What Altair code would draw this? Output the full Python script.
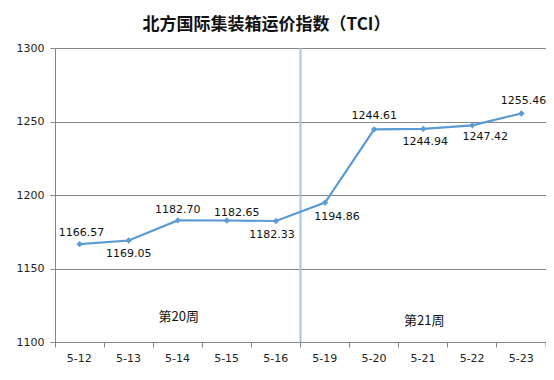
import altair as alt
import pandas as pd

dates = ["5-12", "5-13", "5-14", "5-15", "5-16", "5-19", "5-20", "5-21", "5-22", "5-23"]
values = [1166.57, 1169.05, 1182.70, 1182.65, 1182.33, 1194.86, 1244.61, 1244.94, 1247.42, 1255.46]
labels = ["1166.57", "1169.05", "1182.70", "1182.65", "1182.33", "1194.86", "1244.61", "1244.94", "1247.42", "1255.46"]
weeks = ["第20周", "第21周"]
week_dates = ["5-14", "5-21"]
week_y = [1117, 1114]
y_ticks = [1100, 1150, 1200, 1250, 1300]

# label offsets (style only)
label_dx = [2, 0, 0, 10, -4, 12, 0, 2, 13, 2]
label_dy = [-11, 14, -10, -8, 14, 14, -13, 13, 12, -12]

df = pd.DataFrame({"date": dates, "value": values, "label": labels})
wk = pd.DataFrame({"date": week_dates, "y": week_y, "t": weeks})

W, H = 491, 294
FONT = "DejaVu Sans"
LINE = "#5B9BD5"
BAND = W / len(dates)

xscale = alt.Scale(type="band", domain=dates, paddingInner=0, paddingOuter=0)
yscale = alt.Scale(domain=[1100, 1300], nice=False, zero=False)

base = alt.Chart(df)

line = base.mark_line(color=LINE, strokeWidth=2.2).encode(
    x=alt.X("date:N", scale=xscale, sort=dates,
            axis=alt.Axis(title=None, bandPosition=0, labelOffset=BAND / 4, labelAngle=0,
                          tickSize=5, labelPadding=11, labelFont=FONT, labelFontSize=11,
                          labelColor="#222", domainColor="#868686", tickColor="#868686",
                          grid=False)),
    y=alt.Y("value:Q", scale=yscale,
            axis=alt.Axis(title=None, values=y_ticks, format="d", tickSize=5,
                          labelPadding=6, labelFont=FONT, labelFontSize=11,
                          labelColor="#222", domainColor="#868686", tickColor="#868686",
                          grid=True, gridColor="#868686", gridWidth=1)),
)

points = base.mark_point(shape="diamond", filled=True, size=40, color=LINE, opacity=1).encode(
    x=alt.X("date:N", scale=xscale, sort=dates),
    y=alt.Y("value:Q", scale=yscale),
)

divider = alt.Chart(pd.DataFrame({"date": ["5-19"]})).mark_rule(
    color="#A8C5E0", strokeWidth=2
).encode(
    x=alt.X("date:N", scale=xscale, bandPosition=0),
    y=alt.value(0), y2=alt.value(H),
)

end_tick = alt.Chart(pd.DataFrame({"a": [0]})).mark_rule(color="#868686").encode(
    x=alt.value(W), y=alt.value(H), y2=alt.value(H + 5)
)

text_layers = []
for i, d in enumerate(dates):
    t = base.transform_filter(alt.datum.date == d).mark_text(
        font=FONT, fontSize=11, color="#111", baseline="middle", align="center",
        dx=label_dx[i], dy=label_dy[i]
    ).encode(
        x=alt.X("date:N", scale=xscale, sort=dates),
        y=alt.Y("value:Q", scale=yscale),
        text="label:N",
    )
    text_layers.append(t)

week_text = alt.Chart(wk).mark_text(
    font="Noto Sans CJK SC", fontSize=13, color="#111", baseline="middle", align="center", dx=1
).encode(
    x=alt.X("date:N", scale=xscale, sort=dates),
    y=alt.Y("y:Q", scale=yscale),
    text="t:N",
)

chart = alt.layer(divider, line, points, end_tick, week_text, *text_layers).properties(
    width=W, height=H,
    autosize=alt.AutoSizeParams(type="none"),
    padding={"left": 47, "top": 40, "right": 0, "bottom": 24},
    title=alt.TitleParams(
        "北方国际集装箱运价指数（TCI）", font="Noto Sans CJK SC", fontSize=17,
        fontWeight="bold", color="#111", anchor="middle", frame="group", dx=-34, offset=8
    ),
).configure_view(stroke=None).configure(background="white")

chart.save("out.html", embed_options={"renderer": "svg", "actions": False})
